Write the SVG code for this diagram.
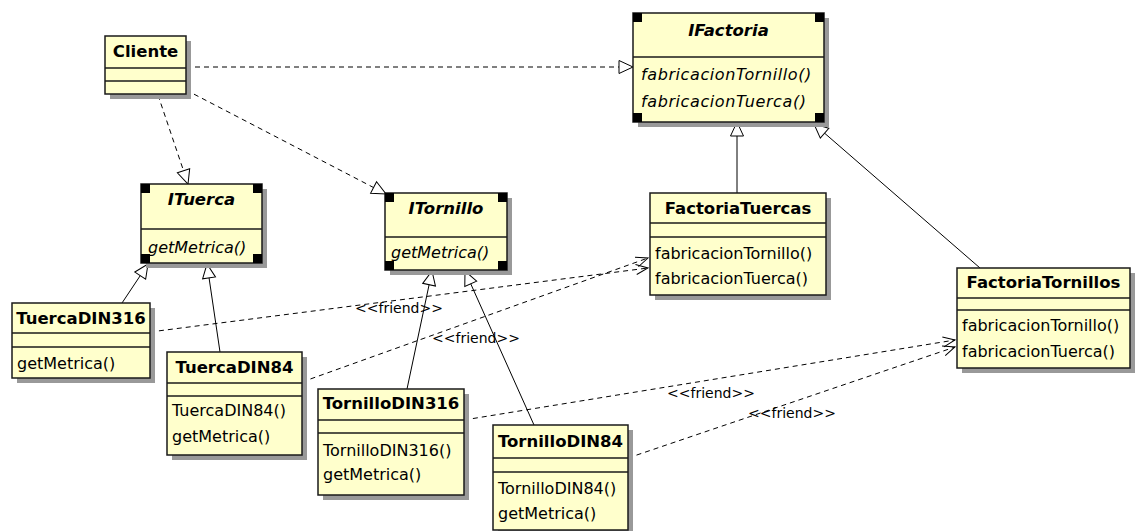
<svg xmlns="http://www.w3.org/2000/svg" width="1137" height="531" viewBox="0 0 1137 531">
  <style>
    .box { fill: #ffffcc; stroke: #1a1a1a; stroke-width: 1.5; }
    .shadow { fill: #999999; }
    .div { stroke: #1a1a1a; stroke-width: 1.5; }
    .corner { fill: #000000; }
    .title { font-family: "DejaVu Sans", sans-serif; font-size: 16.5px; font-weight: bold; fill: #000; text-anchor: middle; }
    .ititle { font-family: "DejaVu Sans", sans-serif; font-size: 16.5px; font-weight: bold; font-style: italic; fill: #000; text-anchor: middle; }
    .op { font-family: "DejaVu Sans", sans-serif; font-size: 16px; fill: #000; }
    .iop { font-family: "DejaVu Sans", sans-serif; font-size: 16px; font-style: italic; fill: #000; }
    .lbl { font-family: "DejaVu Sans", sans-serif; font-size: 14px; fill: #000; }
    .dash { fill: none; stroke: #000; stroke-width: 1; stroke-dasharray: 5 4; }
    .solid { fill: none; stroke: #000; stroke-width: 1; }
  </style>
  <defs>
    <marker id="tri" markerUnits="userSpaceOnUse" markerWidth="16" markerHeight="15" refX="14" refY="6.5" orient="auto" overflow="visible">
      <path d="M0,0 L14,6.5 L0,13 Z" fill="#ffffff" stroke="#000" stroke-width="1" stroke-dasharray="none"/>
    </marker>
    <marker id="open" markerUnits="userSpaceOnUse" markerWidth="14" markerHeight="12" refX="12" refY="5" orient="auto" overflow="visible">
      <path d="M0,0 L12,5 L0,10" fill="none" stroke="#000" stroke-width="1" stroke-dasharray="none"/>
    </marker>
  </defs>

  <rect width="1137" height="531" fill="#ffffff"/>

  <!-- connectors -->
  <g id="connectors">
    <!-- Cliente dependencies on interfaces -->
    <path class="dash" d="M186,67 L633,67" marker-end="url(#tri)"/>
    <path class="dash" d="M158,95 L188,184" marker-end="url(#tri)"/>
    <path class="dash" d="M186,90 L386,194" marker-end="url(#tri)"/>
    <!-- factories realize IFactoria -->
    <path class="solid" d="M737,193 L737,122" marker-end="url(#tri)"/>
    <path class="solid" d="M980,268 L814,124" marker-end="url(#tri)"/>
    <!-- nuts realize ITuerca -->
    <path class="solid" d="M122,303 L148,264" marker-end="url(#tri)"/>
    <path class="solid" d="M220,352 L207,264" marker-end="url(#tri)"/>
    <!-- screws realize ITornillo -->
    <path class="solid" d="M407,389 L432,271" marker-end="url(#tri)"/>
    <path class="solid" d="M534,425 L465,271" marker-end="url(#tri)"/>
    <!-- friend relations -->
    <path class="dash" d="M150,332 L648,268" marker-end="url(#open)"/>
    <path class="dash" d="M302,382 L648,258" marker-end="url(#open)"/>
    <path class="dash" d="M464,420 L955,340" marker-end="url(#open)"/>
    <path class="dash" d="M628,458 L955,347" marker-end="url(#open)"/>
    <text class="lbl" x="355" y="313">&lt;&lt;friend&gt;&gt;</text>
    <text class="lbl" x="432" y="343">&lt;&lt;friend&gt;&gt;</text>
    <text class="lbl" x="667" y="398">&lt;&lt;friend&gt;&gt;</text>
    <text class="lbl" x="748" y="418">&lt;&lt;friend&gt;&gt;</text>
  </g>

  <!-- Cliente -->
  <g id="Cliente">
    <rect class="shadow" x="110" y="41" width="81" height="58"/>
    <rect class="box" x="105" y="36" width="81" height="58"/>
    <line class="div" x1="105" y1="68" x2="186" y2="68"/>
    <line class="div" x1="105" y1="81" x2="186" y2="81"/>
    <text class="title" x="145.5" y="57">Cliente</text>
  </g>

  <!-- IFactoria -->
  <g id="IFactoria">
    <rect class="shadow" x="638" y="18" width="191" height="109"/>
    <rect class="box" x="633" y="13" width="191" height="109"/>
    <line class="div" x1="633" y1="57" x2="824" y2="57"/>
    <rect class="corner" x="633" y="13" width="9" height="9"/>
    <rect class="corner" x="815" y="13" width="9" height="9"/>
    <rect class="corner" x="633" y="113" width="9" height="9"/>
    <rect class="corner" x="815" y="113" width="9" height="9"/>
    <text class="ititle" x="728.5" y="36">IFactoria</text>
    <text class="iop" x="641" y="80" letter-spacing="0.6">fabricacionTornillo()</text>
    <text class="iop" x="641" y="107" letter-spacing="0.6">fabricacionTuerca()</text>
  </g>

  <!-- ITuerca -->
  <g id="ITuerca">
    <rect class="shadow" x="146" y="189" width="121" height="79"/>
    <rect class="box" x="141" y="184" width="121" height="79"/>
    <line class="div" x1="141" y1="229" x2="262" y2="229"/>
    <rect class="corner" x="141" y="184" width="9" height="9"/>
    <rect class="corner" x="253" y="184" width="9" height="9"/>
    <rect class="corner" x="141" y="254" width="9" height="9"/>
    <rect class="corner" x="253" y="254" width="9" height="9"/>
    <text class="ititle" x="201.5" y="205">ITuerca</text>
    <text class="iop" x="148" y="253">getMetrica()</text>
  </g>

  <!-- ITornillo -->
  <g id="ITornillo">
    <rect class="shadow" x="390" y="198" width="122" height="77"/>
    <rect class="box" x="385" y="193" width="122" height="77"/>
    <line class="div" x1="385" y1="237" x2="507" y2="237"/>
    <rect class="corner" x="385" y="193" width="9" height="9"/>
    <rect class="corner" x="498" y="193" width="9" height="9"/>
    <rect class="corner" x="385" y="261" width="9" height="9"/>
    <rect class="corner" x="498" y="261" width="9" height="9"/>
    <text class="ititle" x="446" y="214">ITornillo</text>
    <text class="iop" x="391" y="258">getMetrica()</text>
  </g>

  <!-- FactoriaTuercas -->
  <g id="FactoriaTuercas">
    <rect class="shadow" x="655" y="198" width="176" height="102"/>
    <rect class="box" x="650" y="193" width="176" height="102"/>
    <line class="div" x1="650" y1="223" x2="826" y2="223"/>
    <line class="div" x1="650" y1="237" x2="826" y2="237"/>
    <text class="title" x="738" y="214">FactoriaTuercas</text>
    <text class="op" x="655" y="259">fabricacionTornillo()</text>
    <text class="op" x="655" y="284">fabricacionTuerca()</text>
  </g>

  <!-- FactoriaTornillos -->
  <g id="FactoriaTornillos">
    <rect class="shadow" x="962" y="273" width="173" height="100"/>
    <rect class="box" x="957" y="268" width="173" height="100"/>
    <line class="div" x1="957" y1="298" x2="1130" y2="298"/>
    <line class="div" x1="957" y1="310" x2="1130" y2="310"/>
    <text class="title" x="1043.5" y="288">FactoriaTornillos</text>
    <text class="op" x="962" y="331">fabricacionTornillo()</text>
    <text class="op" x="962" y="357">fabricacionTuerca()</text>
  </g>

  <!-- TuercaDIN316 -->
  <g id="TuercaDIN316">
    <rect class="shadow" x="17" y="308" width="138" height="75"/>
    <rect class="box" x="12" y="303" width="138" height="75"/>
    <line class="div" x1="12" y1="333" x2="150" y2="333"/>
    <line class="div" x1="12" y1="347" x2="150" y2="347"/>
    <text class="title" x="81" y="324">TuercaDIN316</text>
    <text class="op" x="17" y="369">getMetrica()</text>
  </g>

  <!-- TuercaDIN84 -->
  <g id="TuercaDIN84">
    <rect class="shadow" x="172" y="357" width="135" height="103"/>
    <rect class="box" x="167" y="352" width="135" height="103"/>
    <line class="div" x1="167" y1="383" x2="302" y2="383"/>
    <line class="div" x1="167" y1="396" x2="302" y2="396"/>
    <text class="title" x="234.5" y="373">TuercaDIN84</text>
    <text class="op" x="172" y="416">TuercaDIN84()</text>
    <text class="op" x="172" y="442">getMetrica()</text>
  </g>

  <!-- TornilloDIN316 -->
  <g id="TornilloDIN316">
    <rect class="shadow" x="323" y="394" width="146" height="106"/>
    <rect class="box" x="318" y="389" width="146" height="106"/>
    <line class="div" x1="318" y1="420" x2="464" y2="420"/>
    <line class="div" x1="318" y1="433" x2="464" y2="433"/>
    <text class="title" x="391" y="409">TornilloDIN316</text>
    <text class="op" x="323" y="456">TornilloDIN316()</text>
    <text class="op" x="323" y="480">getMetrica()</text>
  </g>

  <!-- TornilloDIN84 -->
  <g id="TornilloDIN84">
    <rect class="shadow" x="498" y="430" width="135" height="105"/>
    <rect class="box" x="493" y="425" width="135" height="105"/>
    <line class="div" x1="493" y1="458" x2="628" y2="458"/>
    <line class="div" x1="493" y1="472" x2="628" y2="472"/>
    <text class="title" x="560.5" y="447">TornilloDIN84</text>
    <text class="op" x="498" y="494">TornilloDIN84()</text>
    <text class="op" x="498" y="519">getMetrica()</text>
  </g>
</svg>
